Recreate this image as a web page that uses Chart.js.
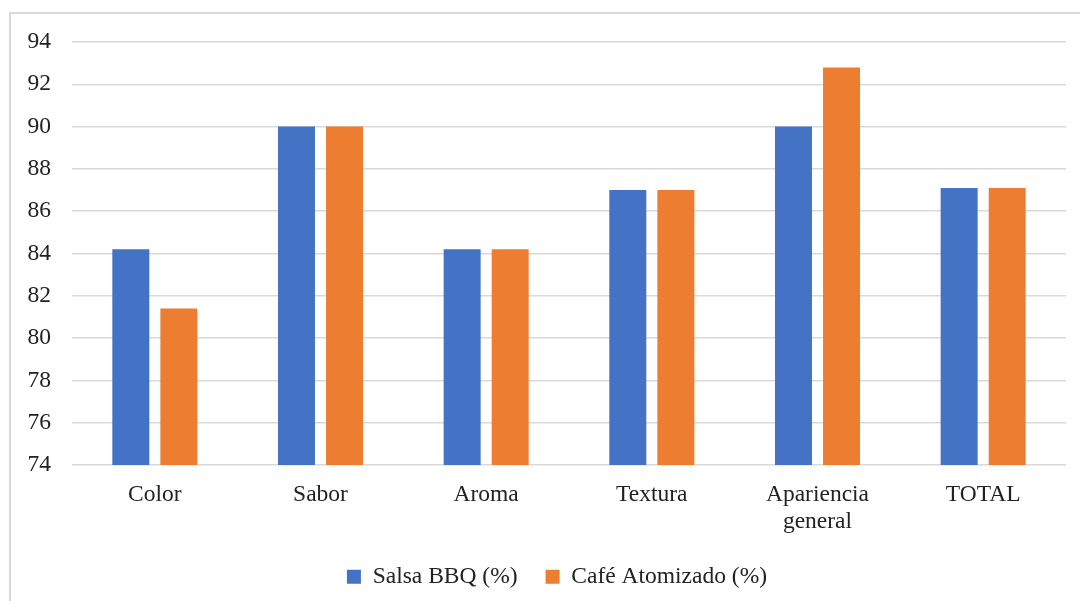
<!DOCTYPE html>
<html>
<head>
<meta charset="utf-8">
<script src="https://cdn.jsdelivr.net/npm/chart.js@4"></script>
<style>
    html, body { margin: 0; padding: 0; background: #fff; }
    .wrap { position: relative; width: 1080px; height: 601px; overflow: hidden; }
    .frame { position: absolute; left: 9px; top: 12px; width: 1100px; height: 620px; border: 2px solid #d9d9d9; }
    canvas { position: absolute; left: 0; top: 0; }
</style>
</head>
<body>
<div class="wrap">
    <div class="frame"></div>
    <canvas id="sensoryChart" width="1080" height="601"></canvas>
</div>
<script>
const categories = ['Color', 'Sabor', 'Aroma', 'Textura', ['Apariencia', 'general'], 'TOTAL'];
const salsaBbq = [84.2, 90, 84.2, 87, 90, 87.1];
const cafeAtomizado = [81.4, 90, 84.2, 87, 92.8, 87.1];
const yTicks = [74, 76, 78, 80, 82, 84, 86, 88, 90, 92, 94];

// the legend in the original sits a bit right of the canvas centre
const legendShift = {
    id: 'legendShift',
    afterLayout: (chart) => {
        if (chart.legend) {
            chart.legend.left += 38;
        }
    },
};

document.addEventListener('DOMContentLoaded', () => {
    const canvas = document.getElementById('sensoryChart');
    const font = { family: '"Liberation Serif", "Times New Roman", serif', size: 23.5, lineHeight: 1.12 };

    new Chart(canvas, {
        type: 'bar',
        data: {
            labels: categories,
            datasets: [
                {
                    label: 'Salsa BBQ (%)',
                    data: salsaBbq,
                    backgroundColor: '#4472C4',
                    categoryPercentage: 0.58,
                    barPercentage: 0.77,
                },
                {
                    label: 'Café Atomizado (%)',
                    data: cafeAtomizado,
                    backgroundColor: '#ED7D31',
                    categoryPercentage: 0.58,
                    barPercentage: 0.77,
                },
            ],
        },
        plugins: [legendShift],
        options: {
            responsive: false,
            animation: false,
            layout: {
                padding: { left: 10, right: 14, top: 42, bottom: 2.5 },
            },
            scales: {
                x: {
                    grid: { display: false },
                    border: { display: false },
                    ticks: { color: '#222', font, padding: 9, maxRotation: 0 },
                    afterFit: (axis) => { axis.height = 72; },
                },
                y: {
                    min: yTicks[0],
                    max: yTicks[yTicks.length - 1],
                    afterBuildTicks: (axis) => { axis.ticks = yTicks.map((v) => ({ value: v })); },
                    grid: { color: '#d9d9d9', lineWidth: 1.5, drawTicks: false },
                    border: { display: false },
                    ticks: { color: '#222', font, padding: 21 },
                    afterFit: (axis) => { axis.width = 62; },
                },
            },
            plugins: {
                legend: {
                    position: 'bottom',
                    labels: {
                        color: '#222',
                        font,
                        boxWidth: 14,
                        boxHeight: 14,
                        padding: 28,
                    },
                },
                tooltip: { enabled: false },
            },
        },
    });
});
</script>
</body>
</html>
